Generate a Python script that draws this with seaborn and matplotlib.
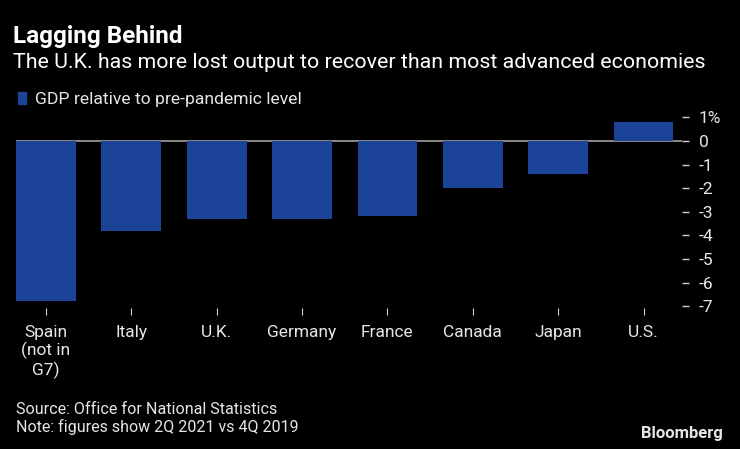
import numpy as np
import pandas as pd
import matplotlib
matplotlib.use("Agg")
import matplotlib.pyplot as plt
import seaborn as sns

# data
countries = ["Spain\n(not in\nG7)", "Italy", "U.K.", "Germany", "France", "Canada", "Japan", "U.S."]
gdp_vs_pre = [-6.8, -3.8, -3.3, -3.3, -3.2, -2.0, -1.4, 0.8]
yticks = [1, 0, -1, -2, -3, -4, -5, -6, -7]
ytick_labels = ["1%", "0", "-1", "-2", "-3", "-4", "-5", "-6", "-7"]

df = pd.DataFrame({"country": countries, "gdp": gdp_vs_pre})

sns.set_theme(style="dark")
plt.rcParams["font.family"] = ["Roboto", "DejaVu Sans"]

bg = "black"
bar_blue = "#1b4397"
txt = "#e6e6e6"

fig = plt.figure(figsize=(7.4, 4.49), dpi=100, facecolor=bg)
ax = fig.add_axes([0.0216, 0.313, 0.9, 0.436])
ax.set_facecolor(bg)

sns.barplot(data=df, x="country", y="gdp", color=bar_blue, saturation=1,
            width=0.7, linewidth=0, edgecolor="none", ax=ax)

ax.axhline(0, color="#a0a0a0", lw=1.2, zorder=0)

ax.set_xlim(-0.35, 7.45)
ax.set_ylim(-7.1, 1.2)
ax.yaxis.tick_right()
ax.set_yticks(yticks)
ax.set_yticklabels(ytick_labels)
ax.set_xlabel("")
ax.set_ylabel("")
ax.grid(False)
for s in ax.spines.values():
    s.set_visible(False)

ax.tick_params(axis="y", colors="#cfcfcf", labelcolor=txt, length=5, width=1,
               pad=7, labelsize=12.5, direction="out", right=True, left=False)
ax.tick_params(axis="x", colors="#cfcfcf", labelcolor=txt, length=5, width=0.8,
               pad=7, labelsize=12.5, bottom=True)
for lab in ax.get_xticklabels():
    lab.set_linespacing(1.15)
    lab.set_verticalalignment("top")

# titles
fig.text(0.018, 0.905, "Lagging Behind", color="white", fontsize=17.5,
         fontweight="bold", va="baseline")
fig.text(0.018, 0.848, "The U.K. has more lost output to recover than most advanced economies",
         color="white", fontsize=15.4, va="baseline")

# legend
fig.patches.append(plt.Rectangle((0.024, 0.768), 0.011, 0.027, transform=fig.transFigure,
                                 color=bar_blue, figure=fig))
fig.text(0.047, 0.769, "GDP relative to pre-pandemic level", color=txt,
         fontsize=12.6, va="baseline")

# footer
fig.text(0.021, 0.079, "Source: Office for National Statistics", color=txt,
         fontsize=11.6, va="baseline")
fig.text(0.021, 0.038, "Note: figures show 2Q 2021 vs 4Q 2019", color=txt,
         fontsize=11.5, va="baseline")
fig.text(0.977, 0.025, "Bloomberg", color=txt, fontsize=12, fontweight="bold",
         ha="right", va="baseline")

fig.savefig("out.png", dpi=100, facecolor=bg)
